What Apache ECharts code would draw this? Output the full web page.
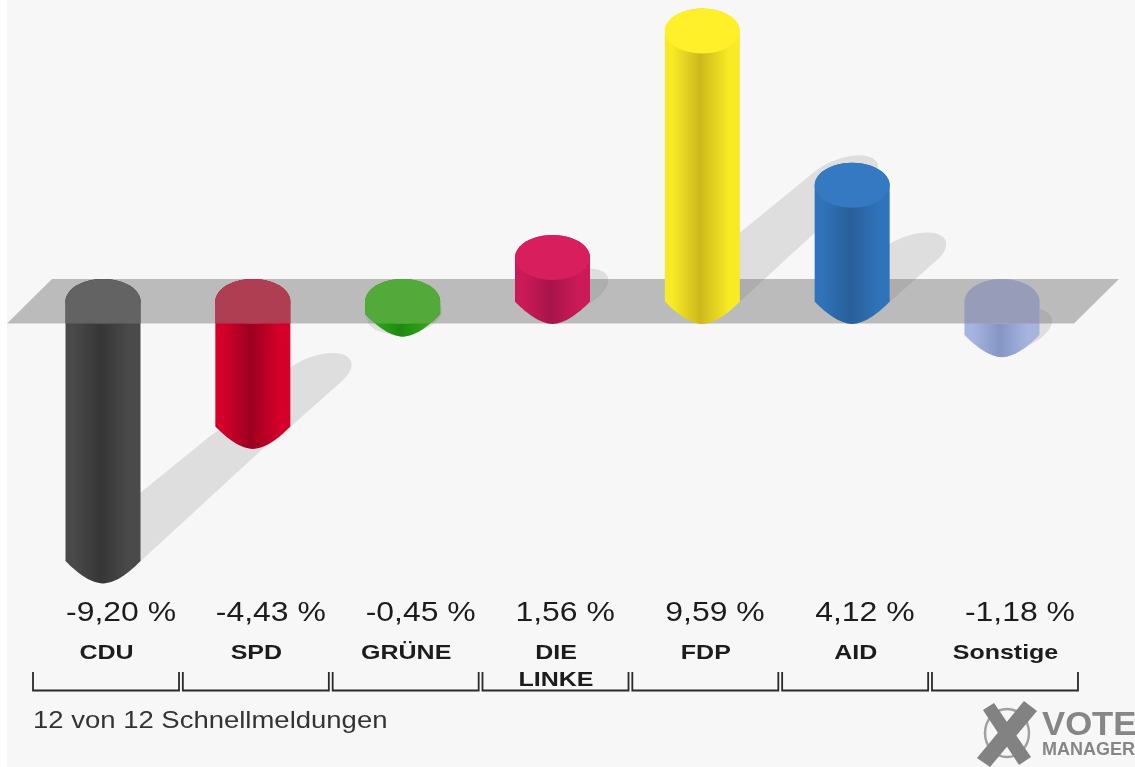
<!DOCTYPE html>
<html><head><meta charset="utf-8">
<script src="https://cdn.jsdelivr.net/npm/echarts@6/dist/echarts.min.js"></script>
<style>
html,body{margin:0;padding:0;background:#fff}
#main{position:absolute;left:0;top:0;width:1135px;height:767px;background:linear-gradient(to right,#fff 7px,#f7f7f7 7px)}
#main canvas{filter:blur(0.7px)}
</style></head><body><div id="main"></div>
<script>
var categories = ['CDU','SPD','GRÜNE','DIE\nLINKE','FDP','AID','Sonstige'];
var values = [-9.20,-4.43,-0.45,1.56,9.59,4.12,-1.18];
var footnote = '12 von 12 Schnellmeldungen';
var edgeColors = ['#4a4a4a','#d4002a','#35a51c','#cc1a58','#f8ea24','#2f73bb','#a6b5e0'];
var coreColors = ['#363636','#9c0020','#1c8a10','#a8154a','#cdb81d','#295f98','#8595c4'];
var topColors  = ['#4a4a4a','#c81838','#3fa828','#d81e5c','#fff02a','#3479c1','#a6b0d4'];
var washColors = ['#636363','#b03e52','#53aa3b',null,null,null,'#979db8'];

var RX = 37.5, RY = 22.5, SANS = '"Liberation Sans",Arial,sans-serif';
function ellipsePts(cx, cy, rx, ry, shear){
  var p = [];
  for (var i = 0; i < 48; i++){
    var t = i / 48 * Math.PI * 2, dx = rx * Math.cos(t), dy = ry * Math.sin(t);
    p.push([cx + dx, cy + dy - (shear || 0) * dx]);
  }
  return p;
}
function hull(pts){
  pts = pts.slice().sort(function(a,b){return a[0]-b[0] || a[1]-b[1];});
  function cross(o,a,b){return (a[0]-o[0])*(b[1]-o[1])-(a[1]-o[1])*(b[0]-o[0]);}
  var lo = [], up = [], i;
  for (i = 0; i < pts.length; i++){
    while (lo.length > 1 && cross(lo[lo.length-2],lo[lo.length-1],pts[i]) <= 0) lo.pop();
    lo.push(pts[i]);
  }
  for (i = pts.length-1; i >= 0; i--){
    while (up.length > 1 && cross(up[up.length-2],up[up.length-1],pts[i]) <= 0) up.pop();
    up.push(pts[i]);
  }
  return lo.slice(0,-1).concat(up.slice(0,-1));
}
function bodyPts(cx, yTop, yBottom){
  var p = [], i;
  for (i = 0; i <= 24; i++){
    var t = Math.PI + i / 24 * Math.PI;
    p.push([cx + RX * Math.cos(t), yTop + RY * Math.sin(t)]);
  }
  for (i = 0; i <= 32; i++){
    var u = 1 - i / 16;
    p.push([cx + RX * u, yBottom + RY * (1 - Math.pow(Math.abs(u), 1.75))]);
  }
  return p;
}
function fmt(v){ return v.toFixed(2).replace('.', ',') + ' %'; }
function txt(x, y, s, size, weight, sx, align){
  return {type:'text', x:x, y:y, scaleX:sx, silent:true, style:{text:s, fontSize:size, fontWeight:weight,
    fontFamily:SANS, fill:'#1c1c1c', align:align, verticalAlign:'middle'}};
}
var dataRows = values.map(function(v,i){ return [i, v]; });
var option = {
  animation:false,
  backgroundColor:'transparent',
  grid:{left:28.1, top:19.5, width:1048.8, height:564},
  xAxis:{type:'category', data:categories, show:false},
  yAxis:{type:'value', min:-10, max:10, show:false},
  series:[
    {type:'custom', z:1, clip:false, silent:true, data:dataRows, renderItem:function(p, api){
      var i = api.value(0), v = api.value(1);
      var zero = api.coord([i, 0]), end = api.coord([i, v]);
      var h = Math.abs(end[1] - zero[1]);
      var cy = v < 0 ? end[1] : zero[1];
      var dx = Math.max(0, 0.53 * h - 5), dy = Math.max(0, 0.5 * h - 12);
      var shear = 0.3 * Math.min(1, h / 40);
      var pts = bodyPts(end[0], cy, cy).concat(ellipsePts(end[0] + dx, cy - dy, RX, 20, shear));
      return {type:'polygon', shape:{points:hull(pts)}, style:{fill:'#dedede'}};
    }},
    {type:'custom', z:2, clip:false, silent:true, data:[[0,0]], renderItem:function(p, api){
      var c = api.coord([0, 0]), t = c[1] - 22.5, b = c[1] + 22;
      return {type:'polygon', shape:{points:[[52,t],[1119,t],[1074,b],[7,b]]}, style:{fill:'rgba(105,105,105,0.42)'}};
    }},
    {type:'custom', z:3, clip:false, silent:true, data:dataRows, renderItem:function(p, api){
      var i = api.value(0), v = api.value(1);
      var zero = api.coord([i, 0]), end = api.coord([i, v]), cx = end[0];
      var yTop = Math.min(zero[1], end[1]), yBot = Math.max(zero[1], end[1]);
      var outline = bodyPts(cx, yTop, yBot);
      var kids = [
        {type:'polygon', shape:{points:outline}, style:{fill:{type:'linear', x:0, y:0, x2:1, y2:0, colorStops:[
          {offset:0, color:edgeColors[i]},{offset:0.1, color:edgeColors[i]},{offset:0.47, color:coreColors[i]},
          {offset:0.85, color:edgeColors[i]},{offset:1, color:edgeColors[i]}]}}},
        {type:'polygon', shape:{points:ellipsePts(cx, yTop, RX, RY)}, style:{fill:topColors[i]}}
      ];
      if (v < 0){
        var bandBottom = zero[1] + 22;
        kids.push({type:'polygon', shape:{points:outline.map(function(q){ return [q[0], Math.min(q[1], bandBottom)]; })},
          style:{fill:washColors[i]}});
      }
      return {type:'group', children:kids};
    }},
    {type:'custom', z:4, clip:false, silent:true, data:dataRows, renderItem:function(p, api){
      var i = api.value(0), v = api.value(1), c = api.coord([i, v])[0];
      var lines = categories[i].split('\n');
      var kids = [txt(c - 37, 613, fmt(v), 28, 'normal', 1.14, 'left')];
      lines.forEach(function(s, k){ kids.push(txt(c + 3.5, 653 + k * 27.5, s, 21, 'bold', 1.19, 'center')); });
      var l = c - 70, r = c + 76;
      kids.push({type:'polyline', shape:{points:[[l,672],[l,690.5],[r,690.5],[r,672]]},
        style:{stroke:'#2a2a2a', lineWidth:1.8, fill:null}});
      return {type:'group', children:kids};
    }}
  ],
  graphic:[
    {type:'text', x:33, y:721, scaleX:1.145, silent:true, style:{text:footnote, fontSize:24, fontFamily:SANS, fill:'#333', align:'left', verticalAlign:'middle'}},
    {type:'ellipse', shape:{cx:1007, cy:733, rx:22, ry:24}, style:{stroke:'#a0a0a0', lineWidth:2.5, fill:'transparent'}},
    {type:'polygon', shape:{points:[[983,710],[994,703],[1031,757],[1019,765]]}, style:{fill:'#828282'}},
    {type:'polygon', shape:{points:[[1024,701],[1037,711],[990,767],[977,758]]}, style:{fill:'#828282'}},
    {type:'text', x:1042, y:726, scaleX:1.02, silent:true, style:{text:'VOTE', fontSize:34, fontWeight:'bold', fontFamily:SANS, fill:'#868686', align:'left', verticalAlign:'middle'}},
    {type:'text', x:1042, y:750, scaleX:1.0, silent:true, style:{text:'MANAGER', fontSize:18, fontWeight:'bold', fontFamily:SANS, fill:'#868686', align:'left', verticalAlign:'middle'}}
  ]
};
echarts.init(document.getElementById('main'), null, {renderer:'canvas'}).setOption(option);
</script></body></html>
